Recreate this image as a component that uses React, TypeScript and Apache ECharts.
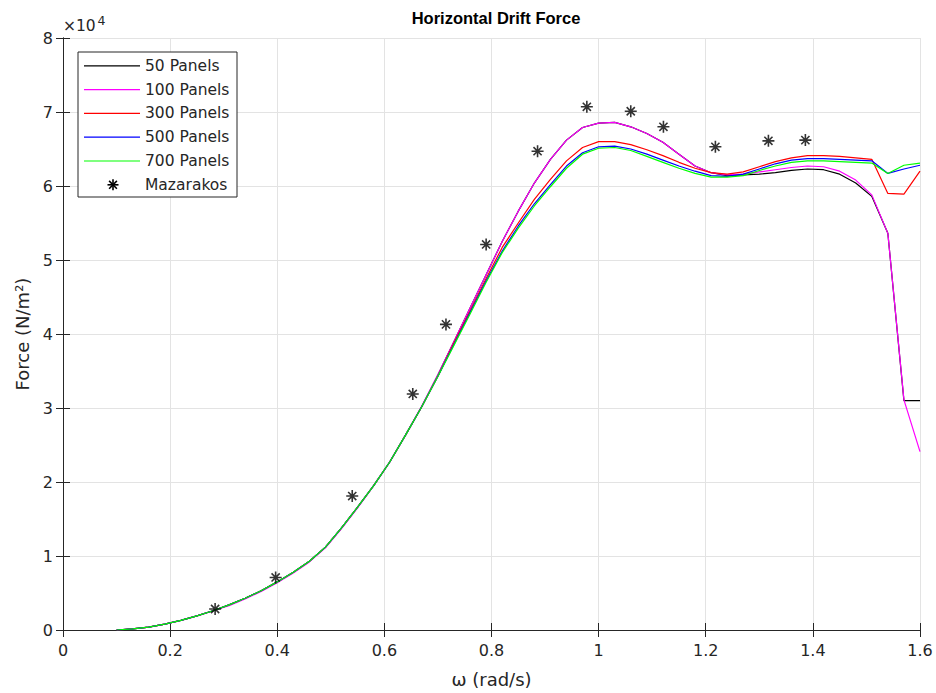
import React, { useEffect, useRef } from "react";
import * as echarts from "echarts";

const omega = [
  0.10, 0.13, 0.16, 0.19, 0.22, 0.25, 0.28, 0.31, 0.34, 0.37, 0.40, 0.43, 0.46,
  0.49, 0.52, 0.55, 0.58, 0.61, 0.64, 0.67, 0.70, 0.73, 0.76, 0.79, 0.82, 0.85,
  0.88, 0.91, 0.94, 0.97, 1.00, 1.03, 1.06, 1.09, 1.12, 1.15, 1.18, 1.21, 1.24,
  1.27, 1.30, 1.33, 1.36, 1.39, 1.42, 1.45, 1.48, 1.51, 1.54, 1.57, 1.60,
];

const panels50 = [
  0, 150, 400, 800, 1300, 1900, 2600, 3400, 4300, 5300, 6500, 7800, 9300,
  11200, 13800, 16600, 19500, 22700, 26400, 30200, 34500, 39000, 43500, 48000, 52500, 56600,
  60400, 63600, 66200, 67900, 68500, 68600, 68000, 67100, 65900, 64300, 62700, 61800, 61400,
  61500, 61600, 61800, 62100, 62300, 62200, 61600, 60400, 58600, 53600, 31000, 31000,
];

const panels100 = [
  0, 150, 400, 800, 1300, 1900, 2600, 3300, 4200, 5200, 6400, 7700, 9200,
  11100, 13700, 16500, 19500, 22700, 26400, 30300, 34500, 39000, 43500, 48000, 52500, 56600,
  60400, 63600, 66200, 67900, 68500, 68600, 68000, 67100, 65900, 64300, 62700, 61800, 61500,
  61600, 61900, 62200, 62500, 62700, 62600, 62000, 60800, 58800, 53600, 31100, 24100,
];

const panels300 = [
  0, 150, 400, 800, 1300, 1900, 2600, 3400, 4300, 5300, 6500, 7800, 9300,
  11200, 13800, 16600, 19500, 22700, 26400, 30200, 34300, 38800, 43100, 47500, 51700, 55000,
  58200, 60900, 63400, 65200, 66000, 66000, 65600, 64900, 64100, 63200, 62400, 61800, 61600,
  61900, 62600, 63300, 63800, 64100, 64100, 64000, 63800, 63600, 59000, 58900, 62000,
];

const panels500 = [
  0, 150, 400, 800, 1300, 1900, 2600, 3400, 4300, 5300, 6500, 7800, 9300,
  11200, 13800, 16600, 19500, 22700, 26400, 30200, 34300, 38600, 42900, 47200, 51200, 54600,
  57600, 60200, 62700, 64500, 65300, 65400, 65000, 64300, 63500, 62700, 62000, 61400, 61300,
  61600, 62300, 63000, 63500, 63700, 63700, 63600, 63500, 63400, 61700, 62300, 62800,
];

const panels700 = [
  0, 150, 400, 800, 1300, 1900, 2600, 3400, 4300, 5300, 6500, 7800, 9300,
  11200, 13800, 16600, 19500, 22700, 26400, 30200, 34300, 38500, 42700, 47000, 51000, 54300,
  57300, 59900, 62400, 64300, 65100, 65200, 64800, 64000, 63200, 62400, 61700, 61200, 61200,
  61400, 62100, 62700, 63200, 63400, 63400, 63300, 63200, 63100, 61700, 62800, 63100,
];

const mazX = [0.284, 0.397, 0.540, 0.653, 0.715, 0.790, 0.886, 0.978, 1.060, 1.121, 1.218, 1.317, 1.386];
const mazY = [2840, 7100, 18100, 31900, 41300, 52100, 64700, 70700, 70100, 68000, 65300, 66100, 66200];

const seriesNames = ["50 Panels", "100 Panels", "300 Panels", "500 Panels", "700 Panels", "Mazarakos"];
const seriesColors = ["#000000", "#ff00ff", "#ff0000", "#0000ff", "#00ff00", "#000000"];
const yTicks = [0, 10000, 20000, 30000, 40000, 50000, 60000, 70000, 80000];

const FONT = "'DejaVu Sans', 'Liberation Sans', Arial, sans-serif";
const TFONT = "'Liberation Sans', Arial, Helvetica, sans-serif";
const TXT = "#262626";
const STAR = "path://M5,0L5,10M0,5L10,5M1.6,1.6L8.4,8.4M1.6,8.4L8.4,1.6";

export default function App() {
  const ref = useRef<HTMLDivElement>(null);
  useEffect(() => {
    if (!ref.current) return;
    const chart = echarts.init(ref.current, null, { renderer: "svg" });
    const lineData = [panels50, panels100, panels300, panels500, panels700];
    const series: any[] = lineData.map((arr, i) => ({
      name: seriesNames[i],
      type: "line",
      data: omega.map((x, j) => [x, arr[j]]),
      symbol: "none",
      lineStyle: { color: seriesColors[i], width: 1.2 },
      itemStyle: { color: seriesColors[i] },
      z: 2 + i,
    }));
    series.push({
      name: seriesNames[5],
      type: "scatter",
      data: mazX.map((x, j) => [x, mazY[j]]),
      symbol: STAR,
      symbolSize: 12,
      itemStyle: { color: "rgba(0,0,0,0)", borderColor: "#000", borderWidth: 1.6 },
      z: 10,
    });

    const legendX = 78, legendY = 52, rowH = 23.8;
    const legendEls: any[] = [
      {
        type: "rect",
        shape: { x: legendX, y: legendY, width: 159, height: 145 },
        style: { fill: "#ffffff", stroke: "#262626", lineWidth: 1 },
        z: 100,
      },
    ];
    seriesNames.forEach((n, i) => {
      const cy = 65.8 + i * rowH;
      if (i < 5) {
        legendEls.push({
          type: "line",
          shape: { x1: 84, y1: cy, x2: 140, y2: cy },
          style: { stroke: seriesColors[i], lineWidth: 1.2 },
          z: 101,
        });
      } else {
        const cx = 113, r = 5.5, d = 3.9;
        [
          [cx, cy - r, cx, cy + r],
          [cx - r, cy, cx + r, cy],
          [cx - d, cy - d, cx + d, cy + d],
          [cx - d, cy + d, cx + d, cy - d],
        ].forEach((s) =>
          legendEls.push({
            type: "line",
            shape: { x1: s[0], y1: s[1], x2: s[2], y2: s[3] },
            style: { stroke: "#000", lineWidth: 1.6 },
            z: 101,
          })
        );
      }
      legendEls.push({
        type: "text",
        x: 145,
        y: cy,
        style: { text: n, fill: TXT, font: `15.5px ${FONT}`, textVerticalAlign: "middle" },
        z: 101,
      });
    });
    legendEls.push({
      type: "text",
      x: 63,
      y: 34,
      style: { text: "×10", fill: TXT, font: `15.5px ${FONT}`, textVerticalAlign: "bottom" },
    });
    legendEls.push({
      type: "text",
      x: 97.5,
      y: 26.5,
      style: { text: "4", fill: TXT, font: `12.5px ${FONT}`, textVerticalAlign: "bottom" },
    });

    chart.setOption({
      animation: false,
      backgroundColor: "#ffffff",
      textStyle: { fontFamily: FONT },
      title: {
        text: "Horizontal Drift Force",
        left: 491,
        top: 4,
        textAlign: "center",
        textStyle: { fontFamily: TFONT, fontSize: 16.5, fontWeight: "bold", color: "#000" },
      },
      grid: { left: 63, right: 16, top: 38, bottom: 63, containLabel: false },
      xAxis: [
        {
          type: "value",
          min: 0,
          max: 1.6,
          interval: 0.2,
          name: "ω (rad/s)",
          nameLocation: "middle",
          nameGap: 40,
          nameTextStyle: { fontFamily: FONT, fontSize: 18, color: TXT },
          axisLine: { show: true, lineStyle: { color: TXT, width: 1 } },
          axisTick: { show: true, inside: true, length: 7, lineStyle: { color: TXT } },
          axisLabel: {
            color: TXT,
            fontSize: 16,
            fontFamily: FONT,
            margin: 12,
            formatter: (v: number) => String(Math.round(v * 10) / 10),
          },
          splitLine: { show: true, lineStyle: { color: "#e3e3e3", width: 1 } },
        },
        {
          type: "value",
          position: "top",
          min: 0,
          max: 1.6,
          interval: 0.2,
          axisLine: { show: true, lineStyle: { color: TXT, width: 1 } },
          axisTick: { show: true, inside: true, length: 7, lineStyle: { color: TXT } },
          axisLabel: { show: false },
          splitLine: { show: false },
        },
      ],
      yAxis: [
        {
          type: "value",
          min: 0,
          max: 80000,
          interval: 10000,
          name: "Force (N/m²)",
          nameLocation: "middle",
          nameGap: 29,
          nameRotate: 90,
          nameTextStyle: { fontFamily: FONT, fontSize: 18, color: TXT },
          axisLine: { show: true, lineStyle: { color: TXT, width: 1 } },
          axisTick: { show: true, inside: true, length: 7, lineStyle: { color: TXT } },
          axisLabel: {
            color: TXT,
            fontSize: 16,
            fontFamily: FONT,
            margin: 10,
            formatter: (v: number) => (yTicks.indexOf(v) >= 0 ? String(v / 10000) : ""),
          },
          splitLine: { show: true, lineStyle: { color: "#e3e3e3", width: 1 } },
        },
        {
          type: "value",
          position: "right",
          min: 0,
          max: 80000,
          interval: 10000,
          axisLine: { show: true, lineStyle: { color: TXT, width: 1 } },
          axisTick: { show: true, inside: true, length: 7, lineStyle: { color: TXT } },
          axisLabel: { show: false },
          splitLine: { show: false },
        },
      ],
      series,
      graphic: legendEls,
    });
    return () => chart.dispose();
  }, []);
  return (
    <div
      ref={ref}
      style={{ position: "fixed", left: 0, top: 0, width: 936, height: 693 }}
    />
  );
}
